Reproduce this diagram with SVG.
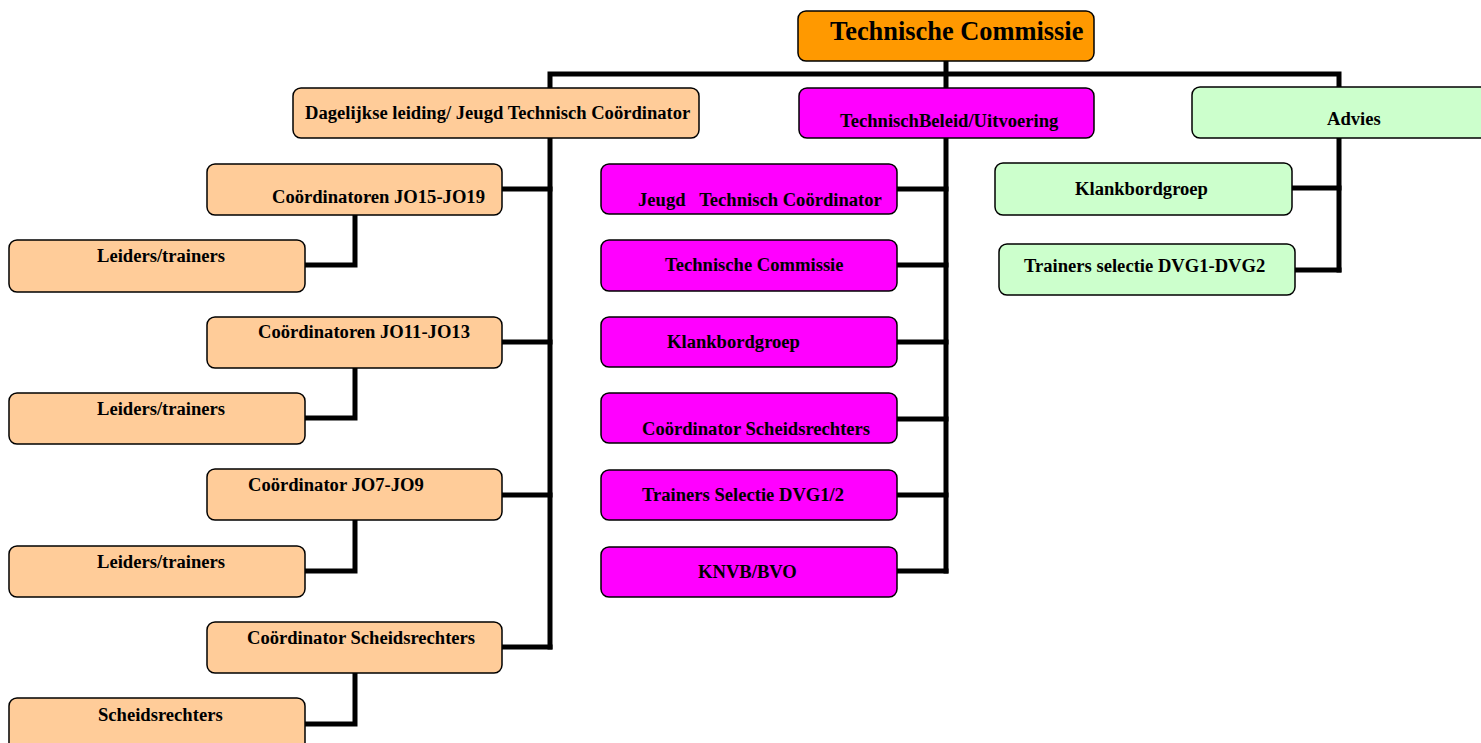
<svg xmlns="http://www.w3.org/2000/svg" width="1481" height="743" viewBox="0 0 1481 743">
<style>
.box{stroke:#000;stroke-width:1.5}
.or{fill:#FF9900}
.pe{fill:#FFCC99}
.mg{fill:#FF00FF}
.gr{fill:#CCFFCC}
text{font-family:"Liberation Serif","Times New Roman",serif;font-weight:bold;font-size:18.6px;fill:#000}
.title{font-size:26.4px}
.conn{fill:none;stroke:#000;stroke-width:5;stroke-linejoin:miter;stroke-linecap:square}
</style>
<rect width="1481" height="743" fill="#fff"/>
<g id="connectors">
<polyline class="conn" points="550,647 550,74 1339,74 1339,270"/>
<polyline class="conn" points="946,61 946,571"/>
<polyline class="conn" points="502,189 550,189"/>
<polyline class="conn" points="502,342 550,342"/>
<polyline class="conn" points="502,495 550,495"/>
<polyline class="conn" points="502,647 550,647"/>
<polyline class="conn" points="355,215 355,265 305,265"/>
<polyline class="conn" points="355,368 355,418 305,418"/>
<polyline class="conn" points="355,520 355,571 305,571"/>
<polyline class="conn" points="355,673 355,724 305,724"/>
<polyline class="conn" points="897,189 946,189"/>
<polyline class="conn" points="897,265 946,265"/>
<polyline class="conn" points="897,342 946,342"/>
<polyline class="conn" points="897,419 946,419"/>
<polyline class="conn" points="897,495 946,495"/>
<polyline class="conn" points="897,571 946,571"/>
<polyline class="conn" points="1292,188 1339,188"/>
<polyline class="conn" points="1295,270 1339,270"/>
</g>
<g id="technische-commissie">
<rect class="box or" x="798" y="11" width="296" height="50" rx="8"/>
<text class="title" x="830" y="40">Technische Commissie</text>
</g>
<g id="dagelijkse-leiding">
<rect class="box pe" x="293" y="88" width="406" height="50" rx="8"/>
<text x="305" y="119">Dagelijkse leiding/ Jeugd Technisch Coördinator</text>
</g>
<g id="technisch-beleid">
<rect class="box mg" x="799" y="88" width="295" height="50" rx="8"/>
<text x="840" y="127">TechnischBeleid/Uitvoering</text>
</g>
<g id="advies">
<rect class="box gr" x="1192" y="87" width="320" height="51" rx="8"/>
<text x="1327" y="125">Advies</text>
</g>
<g id="coord-jo15-jo19">
<rect class="box pe" x="207" y="164" width="295" height="51" rx="8"/>
<text x="272" y="203">Coördinatoren JO15-JO19</text>
</g>
<g id="leiders-1">
<rect class="box pe" x="9" y="240" width="296" height="52" rx="8"/>
<text x="97" y="262">Leiders/trainers</text>
</g>
<g id="coord-jo11-jo13">
<rect class="box pe" x="207" y="317" width="295" height="51" rx="8"/>
<text x="258" y="338">Coördinatoren JO11-JO13</text>
</g>
<g id="leiders-2">
<rect class="box pe" x="9" y="393" width="296" height="51" rx="8"/>
<text x="97" y="415">Leiders/trainers</text>
</g>
<g id="coord-jo7-jo9">
<rect class="box pe" x="207" y="469" width="295" height="51" rx="8"/>
<text x="248" y="491">Coördinator JO7-JO9</text>
</g>
<g id="leiders-3">
<rect class="box pe" x="9" y="546" width="296" height="51" rx="8"/>
<text x="97" y="568">Leiders/trainers</text>
</g>
<g id="coord-scheidsrechters-left">
<rect class="box pe" x="207" y="622" width="295" height="51" rx="8"/>
<text x="247" y="644">Coördinator Scheidsrechters</text>
</g>
<g id="scheidsrechters">
<rect class="box pe" x="9" y="698" width="296" height="60" rx="8"/>
<text x="98" y="721">Scheidsrechters</text>
</g>
<g id="jeugd-tc">
<rect class="box mg" x="601" y="164" width="296" height="50" rx="8"/>
<text x="638" y="206" xml:space="preserve">Jeugd   Technisch Coördinator</text>
</g>
<g id="tc-mid">
<rect class="box mg" x="601" y="240" width="296" height="51" rx="8"/>
<text x="665" y="271">Technische Commissie</text>
</g>
<g id="klankbord-mid">
<rect class="box mg" x="601" y="317" width="296" height="50" rx="8"/>
<text x="667" y="348">Klankbordgroep</text>
</g>
<g id="coord-scheidsrechters-mid">
<rect class="box mg" x="601" y="393" width="296" height="50" rx="8"/>
<text x="642" y="435">Coördinator Scheidsrechters</text>
</g>
<g id="trainers-selectie-mid">
<rect class="box mg" x="601" y="470" width="296" height="50" rx="8"/>
<text x="642" y="501">Trainers Selectie DVG1/2</text>
</g>
<g id="knvb-bvo">
<rect class="box mg" x="601" y="547" width="296" height="50" rx="8"/>
<text x="698" y="578">KNVB/BVO</text>
</g>
<g id="klankbord-right">
<rect class="box gr" x="995" y="163" width="297" height="52" rx="8"/>
<text x="1075" y="195">Klankbordgroep</text>
</g>
<g id="trainers-selectie-right">
<rect class="box gr" x="999" y="244" width="296" height="51" rx="8"/>
<text x="1024" y="272">Trainers selectie DVG1-DVG2</text>
</g>
</svg>
